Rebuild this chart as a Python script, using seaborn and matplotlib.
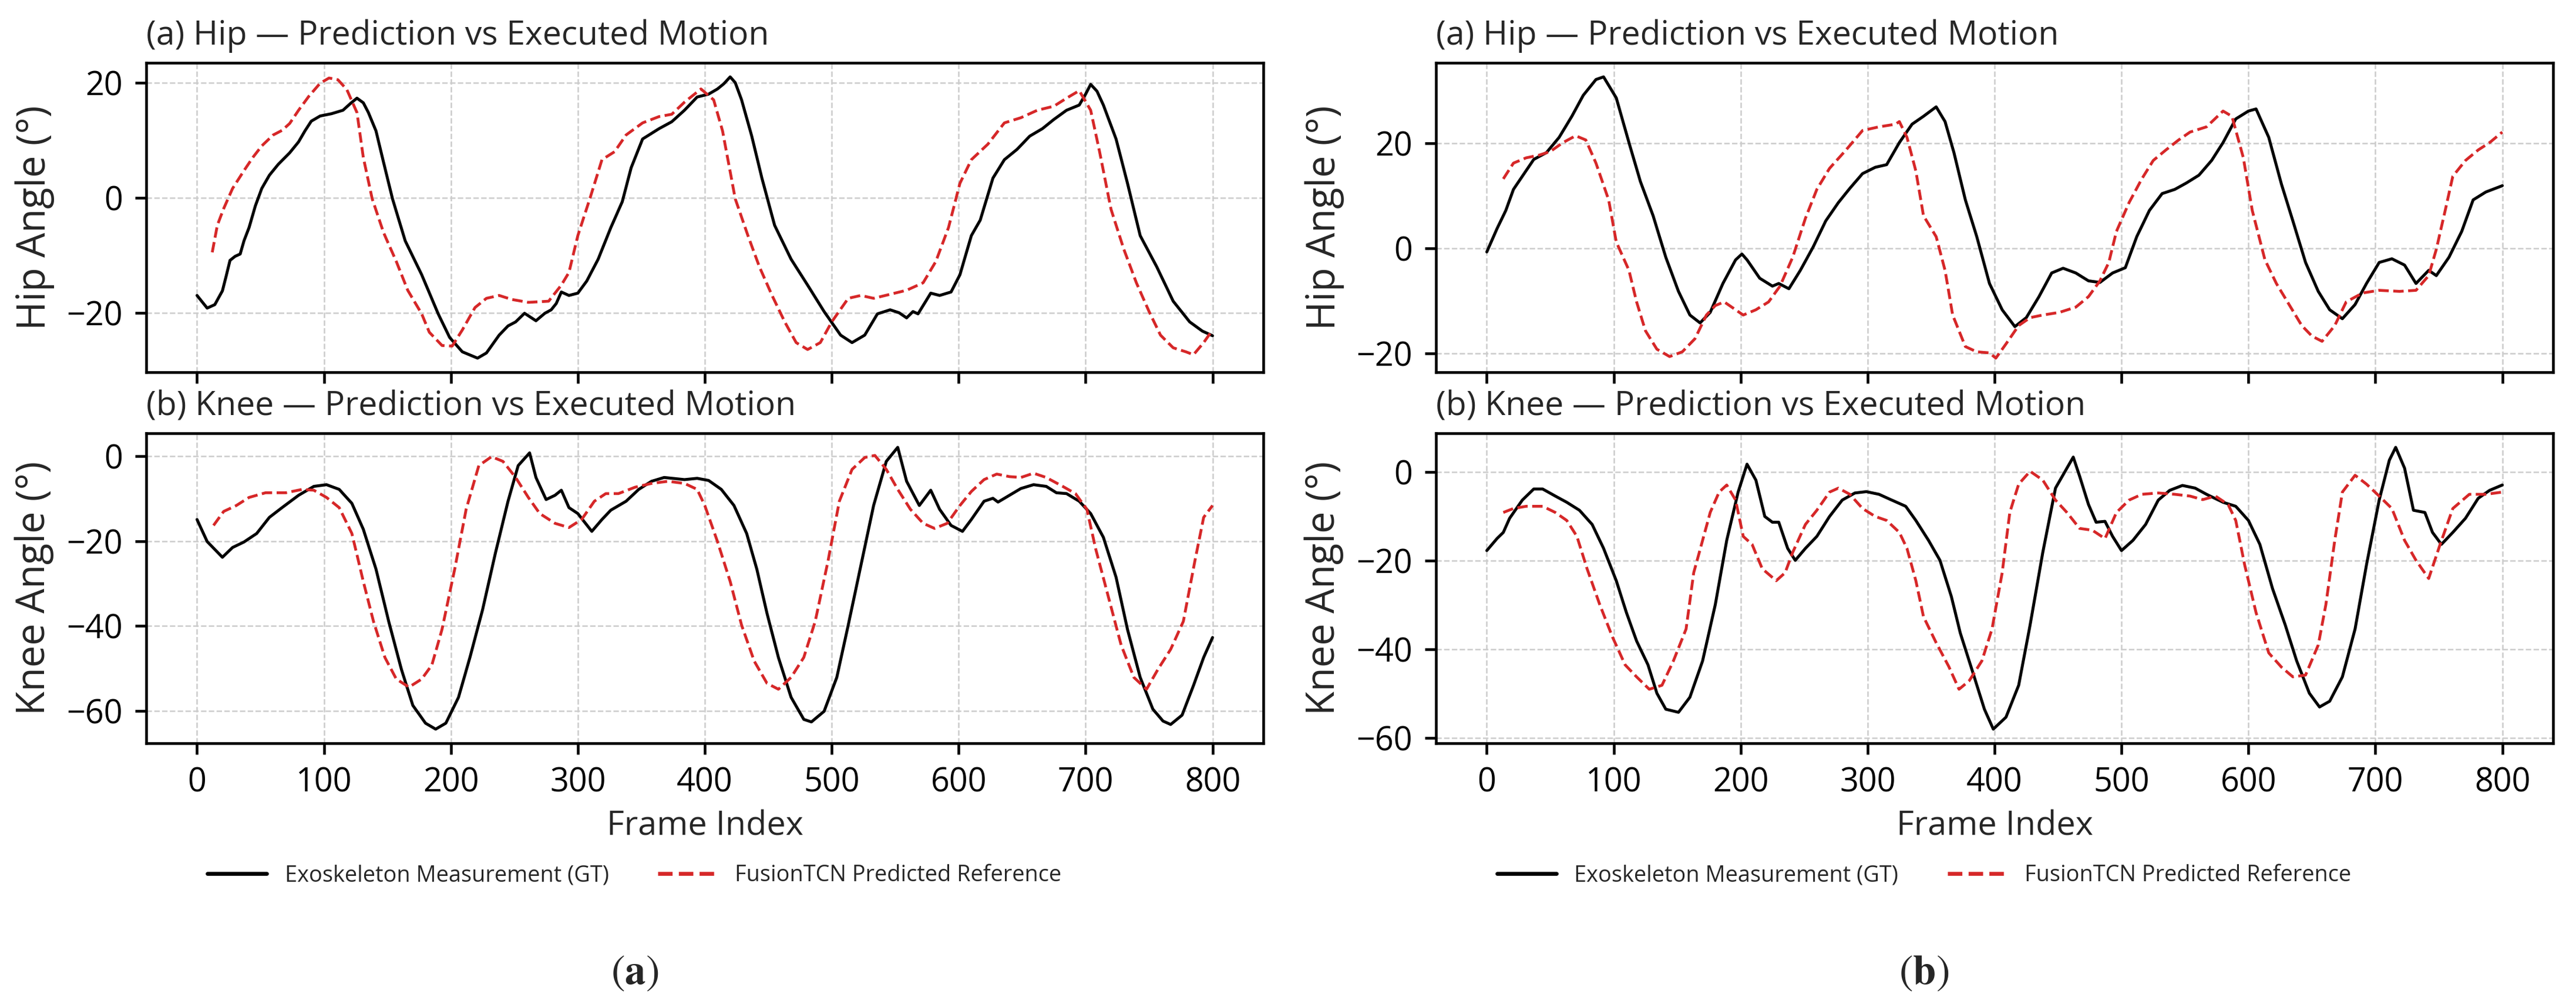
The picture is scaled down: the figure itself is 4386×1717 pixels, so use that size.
import matplotlib
matplotlib.use("Agg")
import matplotlib.pyplot as plt
from matplotlib.lines import Line2D
import seaborn as sns
import pandas as pd

# (frame, angle) pairs
hip_a_gt = [(0,-17.0),(8,-19.2),(14,-18.6),(20,-16.2),(23,-13.6),(26,-10.9),(30,-10.2),(34,-9.8),(37,-7.5),(41,-5.2),
            (46,-1.4),(51,1.6),(57,3.9),(64,5.8),(73,7.8),(80,9.7),(85,11.6),(90,13.3),(97,14.2),(106,14.6),(115,15.2),
            (121,16.4),(126,17.3),(131,16.5),(135,14.8),(141,11.6),(147,6.1),(154,-0.2),(164,-7.5),(177,-13.4),(190,-20.2),
            (199,-24.3),(209,-26.8),(221,-27.9),(228,-27.0),(238,-23.9),(245,-22.3),(251,-21.6),(258,-20.1),(267,-21.4),
            (274,-20.1),(279,-19.5),(283,-18.4),(287,-16.4),(293,-17.0),(300,-16.6),(307,-14.5),(316,-10.7),(326,-5.2),
            (335,-0.7),(342,5.2),(351,10.2),(364,12.0),(374,13.2),(384,15.2),(394,17.5),(403,18.0),(410,18.9),(415,19.8),
            (420,21.0),(424,20.0),(429,17.0),(437,10.7),(445,3.4),(455,-4.8),(468,-10.7),(481,-15.2),(494,-19.8),(507,-23.9),
            (516,-25.2),(526,-23.9),(536,-20.2),(546,-19.5),(553,-20.0),(559,-20.9),(564,-19.8),(568,-20.2),(578,-16.6),
            (585,-17.0),(594,-16.4),(601,-13.4),(610,-6.6),(617,-3.9),(627,3.4),(636,6.6),(646,8.4),(656,10.7),(666,12.0),
            (675,13.6),(685,15.2),(695,16.1),(700,18.0),(704,19.7),(709,18.5),(714,16.1),(724,10.2),(733,2.5),(743,-6.6),
            (756,-12.0),(769,-18.0),(782,-21.6),(792,-23.2),(800,-24.0)]
hip_a_pred = [(12,-9.5),(16,-4.8),(21,-1.9),(28,1.6),(37,4.7),(44,7.0),(51,9.0),(60,10.9),(67,11.7),(73,12.9),(80,15.2),
              (88,17.6),(97,19.9),(104,20.8),(111,20.5),(118,18.8),(126,14.8),(131,7.0),(138,-0.2),(147,-6.1),(157,-11.1),
              (166,-16.1),(177,-20.2),(183,-23.4),(193,-25.7),(201,-25.8),(209,-23.0),(219,-19.1),(228,-17.5),(238,-17.0),
              (248,-17.7),(261,-18.2),(277,-18.0),(287,-15.2),(293,-13.0),(300,-6.6),(310,0.2),(319,6.6),(329,8.0),
              (338,10.9),(351,13.0),(364,14.1),(374,14.5),(384,16.6),(397,18.9),(407,17.0),(414,11.6),(424,-0.2),
              (434,-6.6),(443,-12.0),(453,-17.0),(463,-21.6),(472,-25.2),(481,-26.4),(491,-25.2),(500,-21.6),(513,-17.5),
              (523,-17.0),(533,-17.5),(546,-16.8),(559,-16.1),(572,-14.8),(582,-11.1),(592,-5.2),(601,2.5),(610,6.6),
              (623,9.3),(636,13.0),(649,13.9),(662,15.2),(675,15.9),(685,17.3),(695,18.6),(704,15.2),(711,8.0),(720,-2.0),
              (730,-8.9),(740,-14.8),(750,-19.8),(759,-23.9),(769,-26.1),(779,-26.8),(785,-27.3),(793,-25.2),(800,-23.0)]

knee_a_gt = [(0,-14.9),(8,-20.1),(20,-23.8),(28,-21.5),(37,-20.2),(47,-18.2),(57,-14.4),(67,-12.1),(80,-9.2),(92,-7.1),
             (102,-6.7),(112,-7.8),(122,-11.1),(131,-17.2),(141,-26.6),(151,-38.9),(161,-50.2),(170,-58.7),(180,-62.9),
             (188,-64.3),(196,-62.9),(206,-56.8),(215,-47.4),(225,-36.1),(235,-22.9),(245,-10.6),(253,-2.2),(262,0.8),
             (267,-5.0),(275,-10.2),(282,-9.2),(287,-8.0),(293,-12.1),(300,-13.5),(311,-17.7),(319,-14.9),(326,-12.7),
             (338,-10.6),(348,-7.8),(358,-5.9),(368,-5.0),(384,-5.5),(394,-5.2),(403,-5.7),(413,-7.8),(423,-11.6),
             (433,-18.2),(441,-26.6),(449,-37.0),(458,-47.4),(468,-56.8),(478,-62.0),(484,-62.6),(494,-60.1),(504,-52.1),
             (513,-39.8),(523,-25.7),(533,-11.6),(543,-1.2),(552,2.1),(559,-5.9),(569,-11.6),(578,-8.0),(585,-12.5),
             (594,-16.3),(603,-17.7),(610,-14.9),(620,-10.6),(627,-9.9),(631,-10.8),(640,-9.2),(649,-7.6),(659,-6.7),
             (669,-7.1),(677,-8.6),(685,-8.8),(695,-10.6),(704,-13.5),(714,-19.1),(724,-28.5),(733,-40.8),(743,-52.1),
             (753,-59.6),(761,-62.4),(767,-63.2),(776,-61.0),(785,-54.0),(793,-47.4),(800,-42.7)]
knee_a_pred = [(13,-16.3),(21,-13.0),(31,-11.6),(41,-9.7),(54,-8.6),(70,-8.6),(83,-7.8),(92,-8.0),(102,-9.7),(112,-12.1),
               (122,-18.2),(131,-29.5),(139,-38.9),(148,-47.4),(157,-52.5),(167,-54.4),(177,-52.5),(185,-49.2),
               (193,-40.8),(203,-26.6),(212,-12.5),(222,-2.2),(232,-0.1),(241,-1.2),(251,-5.0),(261,-9.7),(270,-13.5),
               (282,-15.8),(293,-16.8),(303,-14.9),(313,-10.6),(322,-8.8),(332,-8.8),(345,-7.3),(358,-6.4),(371,-5.9),
               (384,-6.4),(394,-7.8),(400,-11.6),(410,-20.1),(420,-29.5),(429,-39.8),(439,-48.3),(449,-53.5),(458,-54.9),
               (468,-52.1),(478,-47.4),(487,-38.9),(497,-24.8),(506,-10.6),(516,-3.1),(526,-0.3),(534,0.2),(543,-3.1),
               (552,-7.8),(562,-12.5),(572,-15.8),(581,-17.0),(591,-15.8),(601,-11.6),(610,-8.3),(620,-5.5),(630,-4.2),
               (640,-4.8),(649,-5.0),(659,-4.0),(669,-5.0),(682,-7.1),(692,-8.8),(701,-12.5),(708,-21.9),(718,-33.2),
               (728,-44.5),(738,-52.1),(748,-54.9),(757,-50.2),(767,-45.5),(777,-38.9),(786,-24.8),(793,-14.4),(800,-11.6)]

hip_b_gt = [(0,-0.7),(8,3.7),(15,7.2),(21,11.2),(28,13.7),(37,16.9),(47,18.2),(57,21.1),(67,25.1),(76,29.1),(86,32.1),
            (92,32.6),(102,28.6),(112,20.1),(121,12.7),(131,6.2),(141,-1.7),(151,-8.2),(160,-12.7),(168,-14.2),(176,-12.2),
            (186,-6.7),(196,-2.2),(201,-1.1),(205,-2.2),(215,-5.7),(225,-7.2),(230,-6.7),(238,-7.7),(247,-4.2),(257,0.2),
            (267,5.2),(277,8.7),(286,11.4),(296,14.2),(306,15.4),(315,15.9),(325,20.1),(335,23.6),(344,25.1),(354,26.9),
            (361,24.1),(368,18.2),(377,9.2),(386,2.2),(396,-6.7),(406,-11.7),(416,-14.9),(425,-13.2),(435,-9.2),(445,-4.7),
            (454,-3.8),(464,-4.7),(474,-6.2),(483,-6.5),(493,-4.7),(503,-3.7),(512,2.2),(522,7.2),(532,10.4),(542,11.2),
            (551,12.4),(561,13.9),(571,16.7),(580,20.1),(590,24.6),(600,26.1),(606,26.5),(616,21.1),(626,12.2),(635,5.2),
            (645,-2.7),(655,-8.2),(664,-11.7),(674,-13.4),(684,-10.7),(693,-6.7),(703,-2.7),(713,-2.0),(723,-3.2),
            (732,-6.7),(742,-4.2),(748,-5.2),(758,-1.7),(768,3.2),(777,9.2),(787,10.7),(800,11.9)]
hip_b_pred = [(13,13.2),(21,16.2),(31,17.2),(41,17.7),(50,18.4),(60,20.1),(70,21.4),(78,20.6),(86,16.2),(96,9.2),
              (102,1.2),(112,-4.2),(118,-10.2),(125,-15.7),(134,-19.2),(144,-20.6),(154,-19.7),(164,-17.2),(173,-12.7),
              (180,-10.9),(187,-10.2),(193,-11.2),(202,-12.7),(212,-11.7),(222,-10.2),(231,-7.2),(241,-1.7),(251,5.7),
              (260,11.2),(270,15.2),(283,18.7),(296,22.4),(309,23.1),(322,23.6),(325,24.1),(331,21.1),(338,14.7),
              (344,6.2),(354,2.2),(361,-4.2),(367,-12.7),(377,-18.7),(386,-19.7),(396,-19.9),(401,-20.9),(409,-18.2),
              (419,-14.7),(428,-13.2),(438,-12.7),(451,-12.2),(464,-11.2),(474,-9.2),(483,-6.2),(490,-2.7),(496,3.2),
              (506,8.7),(516,13.2),(525,16.7),(535,18.7),(545,20.6),(554,22.1),(567,23.1),(580,26.1),(587,25.1),
              (596,17.2),(603,7.2),(613,-2.2),(622,-6.7),(632,-10.7),(642,-14.7),(650,-16.7),(658,-17.7),(668,-14.7),
              (677,-10.2),(690,-8.5),(703,-8.0),(719,-8.2),(732,-8.0),(742,-5.2),(748,-0.2),(755,7.2),(761,13.7),
              (771,16.7),(781,18.7),(790,20.1),(800,22.1)]

knee_b_gt = [(0,-17.7),(8,-15.0),(13,-13.6),(18,-10.4),(28,-6.3),(37,-3.8),(44,-3.8),(54,-5.4),(63,-6.8),(73,-8.6),
             (83,-11.8),(92,-17.2),(102,-24.5),(110,-31.7),(118,-38.1),(127,-43.5),(134,-49.9),(141,-53.5),(151,-54.2),
             (160,-50.8),(170,-42.6),(180,-29.9),(189,-15.4),(198,-4.5),(205,1.8),(212,-1.8),(219,-10.0),(225,-11.3),
             (230,-11.3),(237,-17.2),(243,-19.9),(251,-17.2),(260,-14.5),(270,-10.0),(280,-6.3),(290,-4.7),(299,-4.4),
             (309,-5.0),(319,-6.3),(330,-7.7),(338,-10.9),(348,-15.4),(357,-19.9),(366,-28.1),(373,-36.3),(383,-45.3),
             (392,-53.5),(399,-58.0),(409,-55.3),(419,-48.1),(428,-34.5),(438,-18.1),(448,-3.6),(457,0.9),(462,3.4),
             (467,-0.9),(474,-7.3),(480,-11.3),(487,-11.1),(493,-14.5),(500,-17.7),(509,-15.4),(519,-11.8),(529,-6.3),
             (538,-4.1),(548,-3.0),(558,-3.6),(567,-5.0),(580,-6.8),(590,-7.7),(600,-10.9),(609,-16.3),(619,-26.3),
             (629,-34.5),(638,-42.6),(648,-49.9),(656,-53.0),(664,-51.7),(674,-46.2),(684,-35.4),(693,-20.9),(703,-6.3),
             (711,2.7),(716,5.6),(723,0.9),(730,-8.6),(739,-9.1),(745,-13.6),(752,-16.3),(761,-13.6),(771,-10.4),
             (781,-5.9),(790,-4.1),(800,-2.9)]
knee_b_pred = [(13,-9.1),(21,-8.2),(31,-7.7),(44,-7.7),(54,-9.1),(63,-10.9),(71,-14.5),(79,-21.8),(89,-29.9),(99,-37.2),
               (109,-43.5),(118,-46.2),(128,-49.0),(138,-48.1),(147,-42.6),(157,-35.4),(163,-22.7),(170,-15.4),(176,-9.1),
               (183,-4.5),(189,-2.9),(196,-6.3),(202,-14.5),(209,-16.3),(217,-21.8),(228,-24.5),(235,-22.7),(241,-18.1),
               (251,-11.8),(260,-8.6),(270,-4.5),(277,-3.6),(286,-5.0),(296,-8.2),(306,-10.0),(315,-10.9),(325,-13.6),
               (331,-17.2),(338,-24.5),(344,-32.6),(354,-38.5),(364,-43.9),(372,-49.0),(380,-47.1),(390,-42.6),
               (398,-35.4),(406,-22.7),(412,-9.1),(419,-2.7),(428,0.2),(438,-1.8),(448,-6.3),(457,-9.1),(467,-12.7),
               (477,-13.1),(487,-15.0),(496,-9.1),(506,-6.3),(516,-5.0),(529,-4.7),(542,-5.0),(554,-5.4),(564,-6.2),
               (574,-5.4),(584,-7.3),(590,-10.9),(597,-20.9),(606,-31.7),(616,-40.8),(626,-44.0),(635,-46.2),(645,-45.8),
               (655,-39.0),(661,-29.9),(668,-15.4),(674,-4.5),(684,-0.7),(693,-2.7),(703,-5.4),(713,-8.2),(723,-15.4),
               (732,-19.9),(742,-24.0),(751,-16.3),(761,-8.2),(774,-5.0),(787,-5.0),(800,-4.5)]

gt_label = "Exoskeleton Measurement (GT)"
pred_label = "FusionTCN Predicted Reference"
hip_ticks = [-20, 0, 20]
knee_ticks = [-60, -40, -20, 0]
frame_ticks = list(range(0, 801, 100))

sns.set_theme(style="ticks")
plt.rcParams["font.family"] = ["Open Sans", "DejaVu Sans"]
plt.rcParams["mathtext.fontset"] = "stix"

RED = "#d62728"
fig = plt.figure(figsize=(4386 / 300, 1717 / 300), dpi=300, facecolor="white")


def panel(rect, gt, pred, title, ylabel, yticks, bottom):
    ax = fig.add_axes(rect)
    g = pd.DataFrame(gt, columns=["frame", "angle"])
    p = pd.DataFrame(pred, columns=["frame", "angle"])
    sns.lineplot(data=g, x="frame", y="angle", ax=ax, color="black", lw=1.2, legend=False)
    sns.lineplot(data=p, x="frame", y="angle", ax=ax, color=RED, lw=1.15, ls="--", legend=False)
    ax.set_xlim(-40, 840)
    ax.set_xticks(frame_ticks)
    ax.set_yticks(yticks)
    ax.grid(True, ls="--", color="#cccccc", lw=0.6)
    for s in ax.spines.values():
        s.set_color("black")
        s.set_linewidth(1.1)
    ax.tick_params(direction="out", length=4.6, width=1.1, labelsize=13.4, pad=5, colors="black")
    ax.set_title(title, loc="left", fontsize=13.7, pad=7.4)
    ax.set_ylabel(ylabel, fontsize=16, labelpad=5)
    if bottom:
        ax.set_xlabel("Frame Index", fontsize=13.8, labelpad=4)
    else:
        ax.set_xlabel("")
        ax.tick_params(labelbottom=False)
    return ax


w = 0.43365
panel([0.05677, 0.63075, w, 0.30693], hip_a_gt, hip_a_pred,
      "(a) Hip — Prediction vs Executed Motion", "Hip Angle (°)", hip_ticks, False)
panel([0.05677, 0.26267, w, 0.30751], knee_a_gt, knee_a_pred,
      "(b) Knee — Prediction vs Executed Motion", "Knee Angle (°)", knee_ticks, True)
panel([0.55746, 0.63075, w, 0.30693], hip_b_gt, hip_b_pred,
      "(a) Hip — Prediction vs Executed Motion", "Hip Angle (°)", hip_ticks, False)
panel([0.55746, 0.26267, w, 0.30751], knee_b_gt, knee_b_pred,
      "(b) Knee — Prediction vs Executed Motion", "Knee Angle (°)", knee_ticks, True)

handles = [Line2D([], [], color="black", lw=1.6), Line2D([], [], color=RED, lw=1.6, ls="--")]
for cx, cap in [(0.2463, r"$(\mathbf{a})$"), (0.7469, r"$(\mathbf{b})$")]:
    fig.legend(handles, [gt_label, pred_label], loc="center", bbox_to_anchor=(cx, 0.1316),
               ncol=2, frameon=False, fontsize=9.1, handlelength=2.67, handletextpad=0.8,
               columnspacing=2.2)
    fig.text(cx, 0.0344, cap, ha="center", va="center", fontsize=17)

fig.savefig("out.png", dpi=300, facecolor="white")
